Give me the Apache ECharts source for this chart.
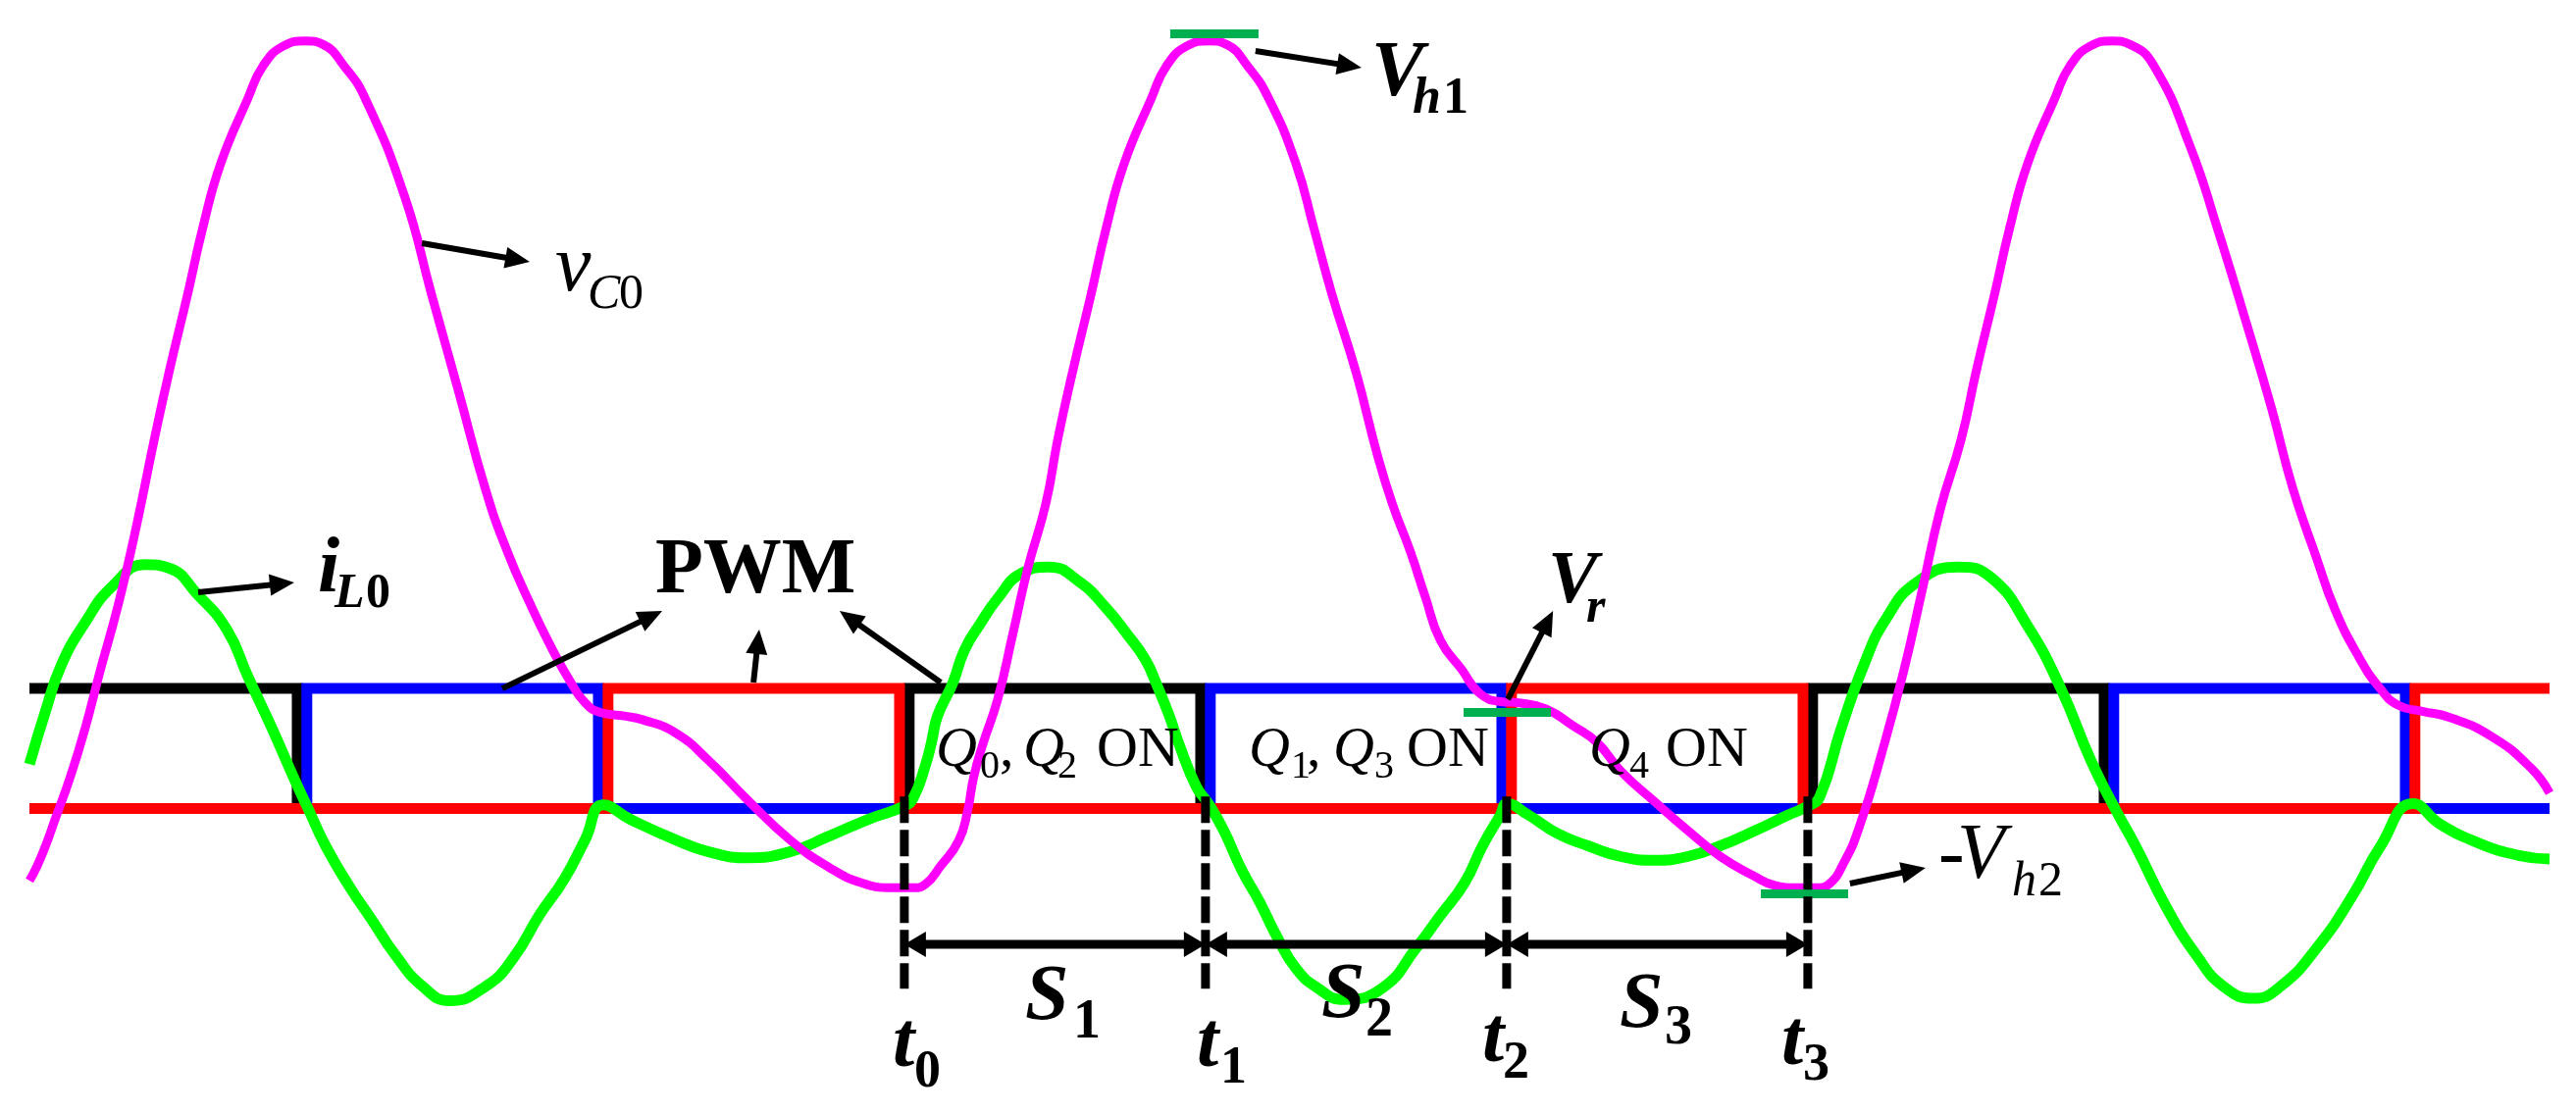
<!DOCTYPE html>
<html>
<head>
<meta charset="utf-8">
<title>PWM waveform</title>
<script src="https://cdn.jsdelivr.net/npm/echarts@6/dist/echarts.min.js"></script>
<style>
    html, body { margin: 0; padding: 0; background: #fff; }
    #main { width: 2626px; height: 1135px; }
</style>
</head>
<body>
<div id="main"></div>
<script>
// one x unit = one switching interval, y: PWM low = 0, high = 1
const xStart = 0.095;
const xEnd = 8.463;

// intervals where each gate signal is high
const blackOn = [[xStart, 1], [3, 4], [6, 7]];
const blueOn = [[1, 2], [4, 5], [7, 8]];
const redOn = [[2, 3], [5, 6], [8, xEnd]];

// switching instants t0..t3
const tMarks = [3, 4, 5, 6];

// capacitor voltage v_C0
const vC0 = [
    [0.095, -0.60], [0.12, -0.48], [0.15, -0.30], [0.18, -0.09], [0.23, 0.26], [0.28, 0.67], [0.33, 1.15],
    [0.39, 1.70], [0.45, 2.35], [0.51, 3.08], [0.56, 3.65], [0.62, 4.28], [0.67, 4.83], [0.73, 5.37],
    [0.82, 5.91], [0.87, 6.18], [0.94, 6.35], [1.01, 6.39], [1.07, 6.36], [1.14, 6.18], [1.21, 5.91],
    [1.34, 5.10], [1.43, 4.28], [1.52, 3.47], [1.61, 2.65], [1.68, 2.15], [1.76, 1.69], [1.83, 1.33],
    [1.89, 1.06], [1.94, 0.88], [1.99, 0.80], [2.07, 0.77], [2.13, 0.74], [2.24, 0.63], [2.35, 0.40],
    [2.48, 0.07], [2.62, -0.26], [2.75, -0.49], [2.86, -0.62], [2.96, -0.66], [3.03, -0.66],
    [3.07, -0.63], [3.12, -0.48], [3.18, -0.27], [3.21, -0.02], [3.23, 0.26], [3.26, 0.53], [3.31, 0.91],
    [3.36, 1.45], [3.41, 2.00], [3.47, 2.54], [3.51, 3.08], [3.56, 3.65], [3.62, 4.28], [3.67, 4.83],
    [3.73, 5.37], [3.82, 5.91], [3.87, 6.18], [3.94, 6.35], [4.01, 6.39], [4.07, 6.36], [4.14, 6.18],
    [4.21, 5.91], [4.30, 5.37], [4.36, 4.83], [4.42, 4.28], [4.50, 3.63], [4.57, 2.95], [4.62, 2.54],
    [4.68, 2.14], [4.73, 1.76], [4.78, 1.40], [4.85, 1.16], [4.91, 0.96], [4.98, 0.89], [5.04, 0.88],
    [5.13, 0.83], [5.22, 0.69], [5.30, 0.55], [5.38, 0.31], [5.49, 0.06], [5.60, -0.18], [5.71, -0.40],
    [5.82, -0.56], [5.89, -0.64], [5.96, -0.66], [6.03, -0.66],
    [6.07, -0.63], [6.12, -0.45], [6.17, -0.16], [6.25, 0.50], [6.32, 1.16], [6.38, 1.82], [6.44, 2.49],
    [6.51, 3.08], [6.56, 3.65], [6.62, 4.28], [6.67, 4.83], [6.73, 5.37], [6.82, 5.91], [6.87, 6.18],
    [6.94, 6.35], [7.01, 6.39], [7.07, 6.36], [7.15, 6.18], [7.27, 5.51], [7.36, 4.83], [7.46, 4.01],
    [7.54, 3.33], [7.61, 2.67], [7.69, 2.08], [7.75, 1.66], [7.83, 1.26], [7.90, 1.00], [7.96, 0.86],
    [8.04, 0.81], [8.13, 0.76], [8.27, 0.60], [8.40, 0.34], [8.463, 0.13]
];

// inductor current i_L0
const iL0 = [
    [0.095, 0.37], [0.147, 0.80], [0.20, 1.19], [0.28, 1.55], [0.37, 1.85], [0.48, 2.03], [0.56, 2.00],
    [0.65, 1.79], [0.75, 1.49], [0.82, 1.10], [0.90, 0.67], [0.97, 0.27], [1.02, 0.00], [1.08, -0.32],
    [1.16, -0.66], [1.23, -0.92], [1.31, -1.22], [1.40, -1.48], [1.49, -1.60], [1.61, -1.48], [1.70, -1.25],
    [1.79, -0.88], [1.87, -0.59], [1.94, -0.26], [2.00, 0.03], [2.09, -0.09], [2.24, -0.26], [2.35, -0.36],
    [2.48, -0.41], [2.62, -0.36], [2.75, -0.23], [2.88, -0.09], [3.00, 0.02],
    [3.03, 0.09], [3.07, 0.36], [3.09, 0.55], [3.11, 0.77], [3.16, 1.04], [3.20, 1.32], [3.25, 1.53],
    [3.31, 1.75], [3.39, 1.96], [3.48, 2.01], [3.58, 1.89], [3.67, 1.67], [3.74, 1.45], [3.80, 1.24],
    [3.84, 1.02], [3.88, 0.77], [3.91, 0.55], [3.97, 0.18], [4.01, 0.04], [4.06, -0.18], [4.12, -0.51],
    [4.18, -0.78], [4.24, -1.08], [4.30, -1.33], [4.37, -1.49], [4.46, -1.59], [4.59, -1.49], [4.70, -1.16],
    [4.78, -0.89], [4.86, -0.62], [4.92, -0.31], [4.98, -0.05], [5.00, 0.04], [5.07, -0.05], [5.17, -0.21],
    [5.27, -0.31], [5.38, -0.40], [5.49, -0.43], [5.60, -0.40], [5.71, -0.31], [5.82, -0.19], [5.93, -0.06],
    [6.00, 0.02],
    [6.04, 0.10], [6.11, 0.66], [6.19, 1.22], [6.26, 1.58], [6.36, 1.88], [6.50, 2.01], [6.61, 1.92],
    [6.73, 1.52], [6.84, 1.00], [6.94, 0.40], [7.02, 0.00], [7.09, -0.32], [7.19, -0.82], [7.29, -1.22],
    [7.38, -1.48], [7.48, -1.58], [7.57, -1.48], [7.69, -1.16], [7.81, -0.72], [7.90, -0.32], [8.01, 0.04],
    [8.10, -0.13], [8.23, -0.29], [8.36, -0.39], [8.463, -0.42]
];

// levels marked on v_C0: V_h1, V_r, -V_h2
const levelVh1 = [[3.883, 6.45], [4.176, 6.45]];
const levelVr = [[4.857, 0.80], [5.147, 0.80]];
const levelVh2 = [[5.844, -0.71], [6.134, -0.71]];

const FONT = 'Liberation Serif';
const EDGE_GAP = 0.016;       // falling edge a little before the rising one
const DASH_TOP = 0.10;
const DASH_BOTTOM = -1.50;
const S_ARROW_Y = -1.13;

// arrows from the labels to the curves (axis units)
const callouts = [
    {from: [1.398, 4.706], to: [1.756, 4.551]},
    {from: [4.166, 6.306], to: [4.518, 6.167]},
    {from: [0.655, 1.800], to: [0.974, 1.882]},
    {from: [1.665, 0.999], to: [2.196, 1.645]},
    {from: [2.499, 1.049], to: [2.518, 1.490]},
    {from: [3.121, 1.049], to: [2.785, 1.645]},
    {from: [5.004, 0.910], to: [5.154, 1.645]},
    {from: [6.140, -0.624], to: [6.391, -0.493]}
];

// text pieces: [text, left x, baseline y, size, style]
const labels = [
    ['v', 566, 302, 82, 'i'], ['C', 599, 318, 50, 'i'], ['0', 631, 318, 50, ''],
    ['V', 1398, 103, 80, 'bi'], ['h', 1440, 119, 52, 'bi'], ['1', 1471, 119, 52, 'b'],
    ['i', 324, 609, 80, 'bi'], ['L', 341, 623, 50, 'bi'], ['0', 373, 623, 50, 'b'],
    ['PWM', 668, 610, 80, 'b'],
    ['V', 1578, 620, 76, 'bi'], ['r', 1617, 638, 50, 'bi'],
    ['-', 1976, 901, 80, ''], ['V', 1995, 901, 80, 'i'], ['h', 2051, 917, 50, 'i'], ['2', 2078, 917, 50, ''],
    ['Q', 954, 785, 58, 'i'], ['0', 999, 796, 40, ''], [',', 1019, 785, 58, ''],
    ['Q', 1043, 785, 58, 'i'], ['2', 1078, 796, 40, ''], ['ON', 1118, 785, 58, ''],
    ['Q', 1273, 785, 58, 'i'], ['1', 1316, 796, 40, ''], [',', 1332, 785, 58, ''],
    ['Q', 1359, 785, 58, 'i'], ['3', 1401, 796, 40, ''], ['ON', 1434, 785, 58, ''],
    ['Q', 1620, 785, 58, 'i'], ['4', 1661, 796, 40, ''], ['ON', 1698, 785, 58, ''],
    ['S', 1045, 1045, 80, 'bi'], ['1', 1094, 1062, 56, 'b'],
    ['S', 1347, 1043, 80, 'bi'], ['2', 1392, 1060, 56, 'b'],
    ['S', 1651, 1053, 80, 'bi'], ['3', 1697, 1068, 56, 'b'],
    ['t', 910, 1093, 80, 'bi'], ['0', 932, 1112, 54, 'b'],
    ['t', 1220, 1093, 80, 'bi'], ['1', 1244, 1108, 54, 'b'],
    ['t', 1511, 1088, 80, 'bi'], ['2', 1532, 1103, 54, 'b'],
    ['t', 1816, 1091, 80, 'bi'], ['3', 1838, 1105, 54, 'b']
];

/**
 * step line of one gate signal
 */
const pwmLine = onList => {
    const pts = [];
    if (onList[0][0] > xStart) pts.push([xStart, 0]);
    onList.forEach(([a, b]) => {
        const up = a === xStart ? a : a + EDGE_GAP;
        const dn = b === xEnd ? b : b - EDGE_GAP;
        if (a !== xStart) pts.push([up, 0]);
        pts.push([up, 1], [dn, 1]);
        if (b !== xEnd) pts.push([dn, 0]);
    });
    if (onList[onList.length - 1][1] !== xEnd) pts.push([xEnd, 0]);
    return pts;
};

const lineSeries = (data, color, width, z, extra) => Object.assign({
    type: 'line',
    data: data,
    symbol: 'none',
    silent: true,
    z: z,
    lineStyle: {color: color, width: width, join: 'miter', cap: 'butt'}
}, extra || {});

const option = {
    backgroundColor: '#fff',
    animation: false,
    grid: {left: 0.9, top: 3.75, width: 2609.5, height: 1127},
    xAxis: {type: 'value', min: 0, max: 8.5, show: false},
    yAxis: {type: 'value', min: -2.5, max: 6.7, show: false},
    series: [
        lineSeries(pwmLine(blackOn), '#000000', 11, 2),
        lineSeries(pwmLine(blueOn), '#0000ff', 11, 3),
        lineSeries(pwmLine(redOn), '#ff0000', 11, 4),
        lineSeries(iL0, '#00ff00', 11, 5, {smooth: 0.5}),
        lineSeries(vC0, '#ff00ff', 9, 6, {smooth: 0.5}),
        lineSeries(levelVh1, '#00b050', 9, 7),
        lineSeries(levelVr, '#00b050', 9, 7),
        lineSeries(levelVh2, '#00b050', 9, 7),
        ...tMarks.map(t => {
            const s = lineSeries([[t, DASH_TOP], [t, DASH_BOTTOM]], '#000000', 9, 8);
            s.lineStyle.type = [27, 7];
            return s;
        })
    ]
};

const chart = echarts.init(document.getElementById('main'));
chart.setOption(option);

const px = p => chart.convertToPixel({gridIndex: 0}, p);

// solid triangular arrow head
const arrowHead = (tip, ux, uy, len, w) => {
    const bx = tip[0] - ux * len, by = tip[1] - uy * len;
    return {
        type: 'polygon', z: 100, silent: true,
        shape: {points: [tip, [bx - uy * w / 2, by + ux * w / 2], [bx + uy * w / 2, by - ux * w / 2]]},
        style: {fill: '#000'}
    };
};

const elements = [];
callouts.forEach(c => {
    const p0 = px(c.from), p1 = px(c.to);
    const L = Math.hypot(p1[0] - p0[0], p1[1] - p0[1]);
    const ux = (p1[0] - p0[0]) / L, uy = (p1[1] - p0[1]) / L;
    elements.push({
        type: 'line', z: 100, silent: true,
        shape: {x1: p0[0], y1: p0[1], x2: p1[0] - ux * 22, y2: p1[1] - uy * 22},
        style: {stroke: '#000', lineWidth: 6}
    });
    elements.push(arrowHead(p1, ux, uy, 25, 22));
});

for (let i = 0; i < tMarks.length - 1; i++) {
    const a = px([tMarks[i], S_ARROW_Y]), b = px([tMarks[i + 1], S_ARROW_Y]);
    elements.push({
        type: 'line', z: 100, silent: true,
        shape: {x1: a[0] + 20, y1: a[1], x2: b[0] - 20, y2: b[1]},
        style: {stroke: '#000', lineWidth: 9}
    });
    elements.push(arrowHead(a, -1, 0, 22, 26));
    elements.push(arrowHead(b, 1, 0, 22, 26));
}

labels.forEach(([t, x, base, size, st]) => {
    elements.push({
        type: 'text', z: 101, silent: true,
        x: x, y: base - 0.3375 * size,
        style: {
            text: t,
            fontFamily: FONT,
            fontSize: size,
            fontStyle: st.includes('i') ? 'italic' : 'normal',
            fontWeight: st.includes('b') ? 'bold' : 'normal',
            fill: '#000',
            align: 'left', verticalAlign: 'middle',
            textAlign: 'left', textVerticalAlign: 'middle'
        }
    });
});

chart.setOption({graphic: {elements: elements}});
</script>
</body>
</html>
